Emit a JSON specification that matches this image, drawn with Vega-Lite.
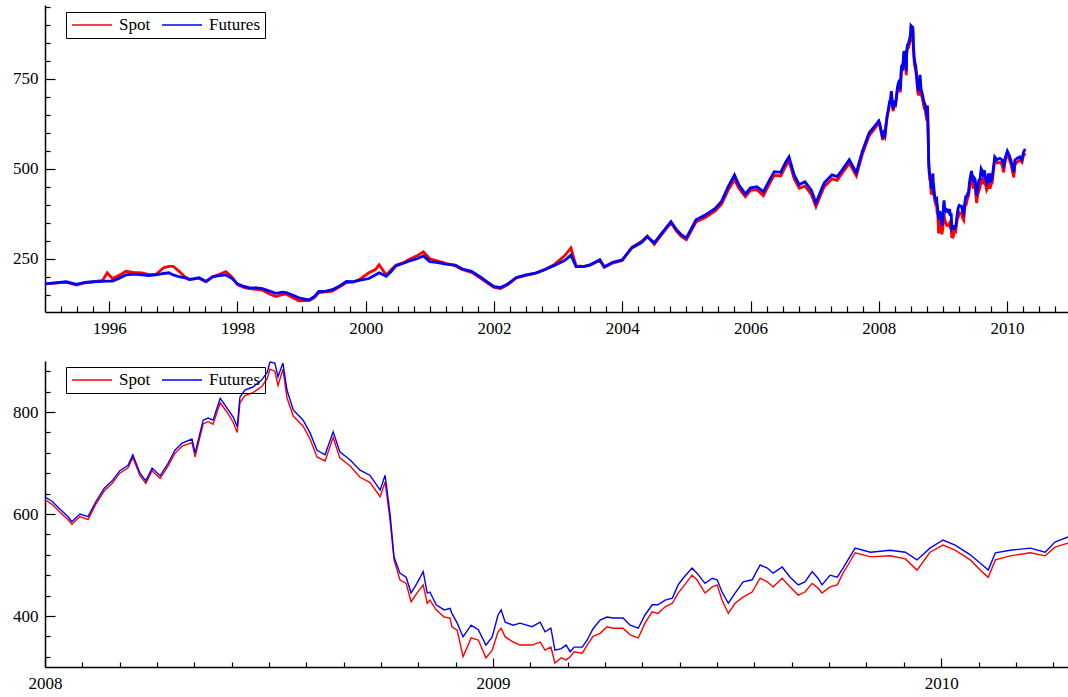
{
  "$schema": "https://vega.github.io/schema/vega-lite/v6.json",
  "background": "white",
  "padding": {"left": 5, "top": 5, "right": 0, "bottom": 0},
  "config": {
    "view": {"stroke": null},
    "font": "Liberation Serif",
    "axis": {
      "title": null,
      "grid": false,
      "domainColor": "black",
      "domainWidth": 1.5,
      "tickColor": "black",
      "tickWidth": 1.2,
      "labelFont": "Liberation Serif",
      "labelFontSize": 17,
      "labelColor": "black",
      "labelFlush": false,
      "labelOverlap": false
    },
    "legend": {
      "orient": "none",
      "direction": "horizontal",
      "title": null,
      "strokeColor": "black",
      "padding": 5,
      "symbolType": "stroke",
      "symbolSize": 1600,
      "symbolStrokeWidth": 1.5,
      "clipHeight": 16,
      "labelFont": "Liberation Serif",
      "labelFontSize": 17,
      "labelColor": "black",
      "labelOffset": 6,
      "columnPadding": 10
    }
  },
  "datasets": {
    "prices": [
      {"t": 1995.00, "Spot": 180, "Futures": 180},
      {"t": 1995.15, "Spot": 182, "Futures": 183},
      {"t": 1995.33, "Spot": 185, "Futures": 186},
      {"t": 1995.49, "Spot": 177, "Futures": 179},
      {"t": 1995.62, "Spot": 183, "Futures": 184},
      {"t": 1995.75, "Spot": 186, "Futures": 186},
      {"t": 1995.90, "Spot": 190, "Futures": 187},
      {"t": 1995.97, "Spot": 211, "Futures": 188},
      {"t": 1996.05, "Spot": 195, "Futures": 188},
      {"t": 1996.15, "Spot": 203, "Futures": 195},
      {"t": 1996.26, "Spot": 215, "Futures": 205},
      {"t": 1996.38, "Spot": 212, "Futures": 207},
      {"t": 1996.51, "Spot": 211, "Futures": 205},
      {"t": 1996.62, "Spot": 206, "Futures": 203},
      {"t": 1996.73, "Spot": 207, "Futures": 205},
      {"t": 1996.85, "Spot": 225, "Futures": 209},
      {"t": 1996.93, "Spot": 229, "Futures": 211},
      {"t": 1997.00, "Spot": 229, "Futures": 205},
      {"t": 1997.09, "Spot": 215, "Futures": 200},
      {"t": 1997.18, "Spot": 200, "Futures": 197},
      {"t": 1997.25, "Spot": 193, "Futures": 192},
      {"t": 1997.33, "Spot": 194, "Futures": 195},
      {"t": 1997.40, "Spot": 196, "Futures": 197},
      {"t": 1997.51, "Spot": 186, "Futures": 187},
      {"t": 1997.61, "Spot": 199, "Futures": 200},
      {"t": 1997.72, "Spot": 207, "Futures": 203},
      {"t": 1997.82, "Spot": 214, "Futures": 205},
      {"t": 1997.92, "Spot": 198, "Futures": 195},
      {"t": 1998.00, "Spot": 178, "Futures": 180},
      {"t": 1998.10, "Spot": 170, "Futures": 173},
      {"t": 1998.18, "Spot": 167, "Futures": 170},
      {"t": 1998.30, "Spot": 165, "Futures": 169},
      {"t": 1998.39, "Spot": 163, "Futures": 167},
      {"t": 1998.50, "Spot": 152, "Futures": 160},
      {"t": 1998.60, "Spot": 145, "Futures": 154},
      {"t": 1998.70, "Spot": 150, "Futures": 157},
      {"t": 1998.76, "Spot": 152, "Futures": 156},
      {"t": 1998.88, "Spot": 140, "Futures": 148},
      {"t": 1998.96, "Spot": 133, "Futures": 141},
      {"t": 1999.05, "Spot": 134, "Futures": 138},
      {"t": 1999.12, "Spot": 134, "Futures": 136},
      {"t": 1999.20, "Spot": 142, "Futures": 145},
      {"t": 1999.27, "Spot": 156, "Futures": 159},
      {"t": 1999.38, "Spot": 158, "Futures": 160},
      {"t": 1999.48, "Spot": 160, "Futures": 164},
      {"t": 1999.60, "Spot": 173, "Futures": 175},
      {"t": 1999.70, "Spot": 184, "Futures": 187},
      {"t": 1999.80, "Spot": 185, "Futures": 186},
      {"t": 1999.90, "Spot": 192, "Futures": 190},
      {"t": 2000.05, "Spot": 211, "Futures": 195},
      {"t": 2000.15, "Spot": 220, "Futures": 205},
      {"t": 2000.21, "Spot": 233, "Futures": 211},
      {"t": 2000.32, "Spot": 205, "Futures": 201},
      {"t": 2000.40, "Spot": 220, "Futures": 215},
      {"t": 2000.47, "Spot": 232, "Futures": 230},
      {"t": 2000.60, "Spot": 240, "Futures": 238},
      {"t": 2000.70, "Spot": 250, "Futures": 245},
      {"t": 2000.80, "Spot": 258, "Futures": 250},
      {"t": 2000.90, "Spot": 269, "Futures": 258},
      {"t": 2001.00, "Spot": 250, "Futures": 242},
      {"t": 2001.10, "Spot": 245, "Futures": 240},
      {"t": 2001.25, "Spot": 237, "Futures": 235},
      {"t": 2001.40, "Spot": 230, "Futures": 232},
      {"t": 2001.50, "Spot": 220, "Futures": 222},
      {"t": 2001.65, "Spot": 212, "Futures": 215},
      {"t": 2001.80, "Spot": 195, "Futures": 198},
      {"t": 2001.90, "Spot": 182, "Futures": 185},
      {"t": 2002.00, "Spot": 170, "Futures": 173},
      {"t": 2002.10, "Spot": 167, "Futures": 170},
      {"t": 2002.20, "Spot": 176, "Futures": 178},
      {"t": 2002.35, "Spot": 197, "Futures": 198},
      {"t": 2002.50, "Spot": 204, "Futures": 205},
      {"t": 2002.65, "Spot": 210, "Futures": 210},
      {"t": 2002.80, "Spot": 221, "Futures": 220},
      {"t": 2002.95, "Spot": 235, "Futures": 232},
      {"t": 2003.10, "Spot": 258, "Futures": 245},
      {"t": 2003.20, "Spot": 280, "Futures": 260},
      {"t": 2003.28, "Spot": 230, "Futures": 228},
      {"t": 2003.40, "Spot": 229, "Futures": 228},
      {"t": 2003.50, "Spot": 232, "Futures": 233},
      {"t": 2003.65, "Spot": 246, "Futures": 247},
      {"t": 2003.72, "Spot": 226, "Futures": 228},
      {"t": 2003.85, "Spot": 238, "Futures": 240},
      {"t": 2004.00, "Spot": 245, "Futures": 247},
      {"t": 2004.15, "Spot": 282, "Futures": 280},
      {"t": 2004.30, "Spot": 298, "Futures": 295},
      {"t": 2004.39, "Spot": 313, "Futures": 311},
      {"t": 2004.50, "Spot": 290, "Futures": 294},
      {"t": 2004.62, "Spot": 318, "Futures": 322},
      {"t": 2004.76, "Spot": 350, "Futures": 353},
      {"t": 2004.85, "Spot": 325, "Futures": 330},
      {"t": 2004.92, "Spot": 312, "Futures": 317},
      {"t": 2005.00, "Spot": 303, "Futures": 308},
      {"t": 2005.15, "Spot": 352, "Futures": 358},
      {"t": 2005.30, "Spot": 365, "Futures": 372},
      {"t": 2005.45, "Spot": 383, "Futures": 390},
      {"t": 2005.55, "Spot": 402, "Futures": 410},
      {"t": 2005.65, "Spot": 440, "Futures": 450},
      {"t": 2005.75, "Spot": 470, "Futures": 483},
      {"t": 2005.82, "Spot": 445, "Futures": 455},
      {"t": 2005.92, "Spot": 422, "Futures": 430},
      {"t": 2006.00, "Spot": 440, "Futures": 447},
      {"t": 2006.10, "Spot": 442, "Futures": 450},
      {"t": 2006.20, "Spot": 425, "Futures": 436},
      {"t": 2006.30, "Spot": 460, "Futures": 470},
      {"t": 2006.37, "Spot": 482, "Futures": 492},
      {"t": 2006.47, "Spot": 480, "Futures": 490},
      {"t": 2006.55, "Spot": 508, "Futures": 519},
      {"t": 2006.60, "Spot": 522, "Futures": 533},
      {"t": 2006.68, "Spot": 472, "Futures": 483},
      {"t": 2006.76, "Spot": 446, "Futures": 456},
      {"t": 2006.85, "Spot": 452, "Futures": 464},
      {"t": 2006.95, "Spot": 428, "Futures": 440},
      {"t": 2007.02, "Spot": 395, "Futures": 405},
      {"t": 2007.10, "Spot": 430, "Futures": 440},
      {"t": 2007.15, "Spot": 450, "Futures": 461},
      {"t": 2007.27, "Spot": 472, "Futures": 483},
      {"t": 2007.35, "Spot": 468, "Futures": 478},
      {"t": 2007.43, "Spot": 488, "Futures": 497},
      {"t": 2007.54, "Spot": 515, "Futures": 525},
      {"t": 2007.65, "Spot": 480, "Futures": 489},
      {"t": 2007.74, "Spot": 538, "Futures": 547},
      {"t": 2007.85, "Spot": 592, "Futures": 600},
      {"t": 2007.93, "Spot": 610, "Futures": 617},
      {"t": 2008.000, "Spot": 628, "Futures": 633},
      {"t": 2008.016, "Spot": 619, "Futures": 625},
      {"t": 2008.033, "Spot": 604, "Futures": 610},
      {"t": 2008.051, "Spot": 589, "Futures": 595},
      {"t": 2008.060, "Spot": 580, "Futures": 585},
      {"t": 2008.078, "Spot": 595, "Futures": 600},
      {"t": 2008.096, "Spot": 589, "Futures": 595},
      {"t": 2008.114, "Spot": 620, "Futures": 625},
      {"t": 2008.132, "Spot": 645, "Futures": 650},
      {"t": 2008.150, "Spot": 660, "Futures": 665},
      {"t": 2008.167, "Spot": 680, "Futures": 685},
      {"t": 2008.185, "Spot": 690, "Futures": 695},
      {"t": 2008.196, "Spot": 711, "Futures": 716},
      {"t": 2008.212, "Spot": 675, "Futures": 680},
      {"t": 2008.225, "Spot": 660, "Futures": 665},
      {"t": 2008.239, "Spot": 685, "Futures": 690},
      {"t": 2008.257, "Spot": 670, "Futures": 675},
      {"t": 2008.275, "Spot": 695, "Futures": 700},
      {"t": 2008.290, "Spot": 719, "Futures": 725},
      {"t": 2008.306, "Spot": 733, "Futures": 739},
      {"t": 2008.328, "Spot": 740, "Futures": 747},
      {"t": 2008.335, "Spot": 712, "Futures": 720},
      {"t": 2008.353, "Spot": 777, "Futures": 784},
      {"t": 2008.364, "Spot": 781, "Futures": 788},
      {"t": 2008.375, "Spot": 776, "Futures": 784},
      {"t": 2008.391, "Spot": 818, "Futures": 827},
      {"t": 2008.406, "Spot": 800, "Futures": 808},
      {"t": 2008.420, "Spot": 780, "Futures": 790},
      {"t": 2008.429, "Spot": 760, "Futures": 771},
      {"t": 2008.435, "Spot": 818, "Futures": 829},
      {"t": 2008.446, "Spot": 832, "Futures": 843},
      {"t": 2008.464, "Spot": 838, "Futures": 849},
      {"t": 2008.484, "Spot": 850, "Futures": 863},
      {"t": 2008.496, "Spot": 866, "Futures": 878},
      {"t": 2008.502, "Spot": 884, "Futures": 898},
      {"t": 2008.513, "Spot": 880, "Futures": 896},
      {"t": 2008.520, "Spot": 852, "Futures": 869},
      {"t": 2008.531, "Spot": 884, "Futures": 896},
      {"t": 2008.540, "Spot": 828, "Futures": 843},
      {"t": 2008.554, "Spot": 792, "Futures": 804},
      {"t": 2008.576, "Spot": 772, "Futures": 784},
      {"t": 2008.592, "Spot": 746, "Futures": 758},
      {"t": 2008.607, "Spot": 712, "Futures": 725},
      {"t": 2008.625, "Spot": 704, "Futures": 716},
      {"t": 2008.643, "Spot": 750, "Futures": 761},
      {"t": 2008.658, "Spot": 710, "Futures": 722},
      {"t": 2008.681, "Spot": 694, "Futures": 706},
      {"t": 2008.703, "Spot": 672, "Futures": 686},
      {"t": 2008.725, "Spot": 662, "Futures": 676},
      {"t": 2008.748, "Spot": 634, "Futures": 647},
      {"t": 2008.759, "Spot": 663, "Futures": 676},
      {"t": 2008.770, "Spot": 588, "Futures": 600},
      {"t": 2008.779, "Spot": 510, "Futures": 515},
      {"t": 2008.792, "Spot": 471, "Futures": 484},
      {"t": 2008.806, "Spot": 464, "Futures": 476},
      {"t": 2008.817, "Spot": 428, "Futures": 445},
      {"t": 2008.830, "Spot": 445, "Futures": 464},
      {"t": 2008.844, "Spot": 461, "Futures": 487},
      {"t": 2008.853, "Spot": 425, "Futures": 445},
      {"t": 2008.859, "Spot": 431, "Futures": 447},
      {"t": 2008.873, "Spot": 412, "Futures": 422},
      {"t": 2008.891, "Spot": 398, "Futures": 412},
      {"t": 2008.904, "Spot": 396, "Futures": 415},
      {"t": 2008.908, "Spot": 379, "Futures": 405},
      {"t": 2008.920, "Spot": 372, "Futures": 386},
      {"t": 2008.933, "Spot": 320, "Futures": 359},
      {"t": 2008.951, "Spot": 357, "Futures": 382},
      {"t": 2008.967, "Spot": 353, "Futures": 373},
      {"t": 2008.984, "Spot": 318, "Futures": 343},
      {"t": 2008.998, "Spot": 333, "Futures": 359},
      {"t": 2009.011, "Spot": 369, "Futures": 402},
      {"t": 2009.018, "Spot": 376, "Futures": 412},
      {"t": 2009.027, "Spot": 359, "Futures": 388},
      {"t": 2009.045, "Spot": 349, "Futures": 382},
      {"t": 2009.060, "Spot": 343, "Futures": 386},
      {"t": 2009.087, "Spot": 343, "Futures": 379},
      {"t": 2009.105, "Spot": 349, "Futures": 388},
      {"t": 2009.116, "Spot": 333, "Futures": 369},
      {"t": 2009.129, "Spot": 339, "Futures": 376},
      {"t": 2009.138, "Spot": 308, "Futures": 333},
      {"t": 2009.152, "Spot": 318, "Futures": 336},
      {"t": 2009.163, "Spot": 314, "Futures": 343},
      {"t": 2009.172, "Spot": 320, "Futures": 330},
      {"t": 2009.181, "Spot": 330, "Futures": 339},
      {"t": 2009.199, "Spot": 327, "Futures": 339},
      {"t": 2009.210, "Spot": 343, "Futures": 353},
      {"t": 2009.223, "Spot": 360, "Futures": 375},
      {"t": 2009.239, "Spot": 366, "Futures": 392},
      {"t": 2009.254, "Spot": 379, "Futures": 398},
      {"t": 2009.268, "Spot": 376, "Futures": 396},
      {"t": 2009.290, "Spot": 376, "Futures": 396},
      {"t": 2009.306, "Spot": 363, "Futures": 382},
      {"t": 2009.324, "Spot": 357, "Futures": 376},
      {"t": 2009.339, "Spot": 386, "Futures": 402},
      {"t": 2009.355, "Spot": 408, "Futures": 422},
      {"t": 2009.368, "Spot": 405, "Futures": 422},
      {"t": 2009.384, "Spot": 418, "Futures": 431},
      {"t": 2009.400, "Spot": 425, "Futures": 435},
      {"t": 2009.413, "Spot": 445, "Futures": 461},
      {"t": 2009.424, "Spot": 457, "Futures": 474},
      {"t": 2009.444, "Spot": 480, "Futures": 494},
      {"t": 2009.455, "Spot": 471, "Futures": 484},
      {"t": 2009.473, "Spot": 445, "Futures": 464},
      {"t": 2009.489, "Spot": 457, "Futures": 474},
      {"t": 2009.500, "Spot": 461, "Futures": 471},
      {"t": 2009.511, "Spot": 431, "Futures": 447},
      {"t": 2009.525, "Spot": 405, "Futures": 425},
      {"t": 2009.540, "Spot": 425, "Futures": 445},
      {"t": 2009.558, "Spot": 437, "Futures": 467},
      {"t": 2009.578, "Spot": 447, "Futures": 471},
      {"t": 2009.596, "Spot": 474, "Futures": 500},
      {"t": 2009.612, "Spot": 467, "Futures": 494},
      {"t": 2009.625, "Spot": 457, "Futures": 484},
      {"t": 2009.645, "Spot": 474, "Futures": 496},
      {"t": 2009.663, "Spot": 457, "Futures": 476},
      {"t": 2009.681, "Spot": 441, "Futures": 461},
      {"t": 2009.696, "Spot": 447, "Futures": 467},
      {"t": 2009.712, "Spot": 464, "Futures": 487},
      {"t": 2009.725, "Spot": 455, "Futures": 474},
      {"t": 2009.734, "Spot": 445, "Futures": 461},
      {"t": 2009.752, "Spot": 457, "Futures": 480},
      {"t": 2009.768, "Spot": 461, "Futures": 476},
      {"t": 2009.781, "Spot": 484, "Futures": 494},
      {"t": 2009.792, "Spot": 500, "Futures": 510},
      {"t": 2009.808, "Spot": 524, "Futures": 533},
      {"t": 2009.842, "Spot": 516, "Futures": 525},
      {"t": 2009.886, "Spot": 518, "Futures": 529},
      {"t": 2009.920, "Spot": 512, "Futures": 525},
      {"t": 2009.946, "Spot": 490, "Futures": 510},
      {"t": 2009.975, "Spot": 525, "Futures": 533},
      {"t": 2010.004, "Spot": 539, "Futures": 549},
      {"t": 2010.031, "Spot": 529, "Futures": 539},
      {"t": 2010.065, "Spot": 510, "Futures": 520},
      {"t": 2010.092, "Spot": 486, "Futures": 500},
      {"t": 2010.105, "Spot": 476, "Futures": 490},
      {"t": 2010.121, "Spot": 510, "Futures": 524},
      {"t": 2010.154, "Spot": 518, "Futures": 529},
      {"t": 2010.199, "Spot": 524, "Futures": 533},
      {"t": 2010.232, "Spot": 518, "Futures": 525},
      {"t": 2010.254, "Spot": 535, "Futures": 545},
      {"t": 2010.283, "Spot": 543, "Futures": 555}
    ]
  },
  "data": {"name": "prices"},
  "spacing": 23,
  "resolve": {
    "scale": {"x": "independent", "y": "independent", "color": "independent"},
    "legend": {"color": "independent"}
  },
  "vconcat": [
    {
      "width": 1023,
      "height": 307,
      "transform": [{"fold": ["Spot", "Futures"], "as": ["s", "v"]}],
      "mark": {"type": "line", "strokeWidth": 2.8},
      "encoding": {
        "x": {
          "field": "t",
          "type": "quantitative",
          "scale": {"domain": [1995, 2010.95], "nice": false, "zero": false},
          "axis": {
            "values": [1995.25, 1995.5, 1995.75, 1996, 1996.25, 1996.5, 1996.75, 1997, 1997.25, 1997.5, 1997.75, 1998, 1998.25, 1998.5, 1998.75, 1999, 1999.25, 1999.5, 1999.75, 2000, 2000.25, 2000.5, 2000.75, 2001, 2001.25, 2001.5, 2001.75, 2002, 2002.25, 2002.5, 2002.75, 2003, 2003.25, 2003.5, 2003.75, 2004, 2004.25, 2004.5, 2004.75, 2005, 2005.25, 2005.5, 2005.75, 2006, 2006.25, 2006.5, 2006.75, 2007, 2007.25, 2007.5, 2007.75, 2008, 2008.25, 2008.5, 2008.75, 2009, 2009.25, 2009.5, 2009.75, 2010, 2010.25, 2010.5, 2010.75],
            "tickSize": {"condition": {"test": "datum.value % 2 === 0", "value": -11}, "value": -6},
            "labelExpr": "datum.value % 2 === 0 ? format(datum.value, 'd') : ''",
            "labelFontSize": {"condition": {"test": "datum.value % 2 === 0", "value": 17}, "value": 0},
            "labelPadding": 19
          }
        },
        "y": {
          "field": "v",
          "type": "quantitative",
          "scale": {"domain": [102, 955], "nice": false, "zero": false},
          "axis": {
            "values": [150, 200, 250, 300, 350, 400, 450, 500, 550, 600, 650, 700, 750, 800, 850, 900, 950],
            "tickSize": {"condition": {"test": "datum.value % 250 === 0", "value": -10}, "value": -5},
            "labelExpr": "datum.value % 250 === 0 ? format(datum.value, 'd') : ''",
            "labelFontSize": {"condition": {"test": "datum.value % 250 === 0", "value": 17}, "value": 0},
            "labelPadding": 17,
            "minExtent": 40,
            "maxExtent": 40
          }
        },
        "color": {
          "field": "s",
          "type": "nominal",
          "scale": {"domain": ["Spot", "Futures"], "range": ["#ff0000", "#0000ff"]},
          "legend": {"legendX": 21, "legendY": 7, "fillColor": "white"}
        }
      }
    },
    {
      "width": 1023,
      "height": 306,
      "transform": [
        {"filter": "datum.t >= 2008"},
        {"fold": ["Spot", "Futures"], "as": ["s", "v"]}
      ],
      "mark": {"type": "line", "strokeWidth": 1.4},
      "encoding": {
        "x": {
          "field": "t",
          "type": "quantitative",
          "scale": {"domain": [2008, 2010.283], "nice": false, "zero": false},
          "axis": {
            "values": [2008, 2008.0833, 2008.1667, 2008.25, 2008.3333, 2008.4167, 2008.5, 2008.5833, 2008.6667, 2008.75, 2008.8333, 2008.9167, 2009, 2009.0833, 2009.1667, 2009.25, 2009.3333, 2009.4167, 2009.5, 2009.5833, 2009.6667, 2009.75, 2009.8333, 2009.9167, 2010, 2010.0833, 2010.1667, 2010.25],
            "tickSize": {"condition": {"test": "datum.value % 1 === 0", "value": -9}, "value": -5},
            "labelExpr": "datum.value % 1 === 0 ? format(datum.value, 'd') : ''",
            "labelFontSize": {"condition": {"test": "datum.value % 1 === 0", "value": 17}, "value": 0},
            "labelPadding": 17
          }
        },
        "y": {
          "field": "v",
          "type": "quantitative",
          "scale": {"domain": [300, 900], "nice": false, "zero": false},
          "axis": {
            "values": [320, 360, 400, 440, 480, 520, 560, 600, 640, 680, 720, 760, 800, 840, 880],
            "tickSize": {"condition": {"test": "datum.value % 200 === 0", "value": -10}, "value": -5},
            "labelExpr": "datum.value % 200 === 0 ? format(datum.value, 'd') : ''",
            "labelFontSize": {"condition": {"test": "datum.value % 200 === 0", "value": 17}, "value": 0},
            "labelPadding": 17,
            "minExtent": 40,
            "maxExtent": 40
          }
        },
        "color": {
          "field": "s",
          "type": "nominal",
          "scale": {"domain": ["Spot", "Futures"], "range": ["#ff0000", "#0000ff"]},
          "legend": {"legendX": 21, "legendY": 6}
        }
      }
    }
  ]
}
